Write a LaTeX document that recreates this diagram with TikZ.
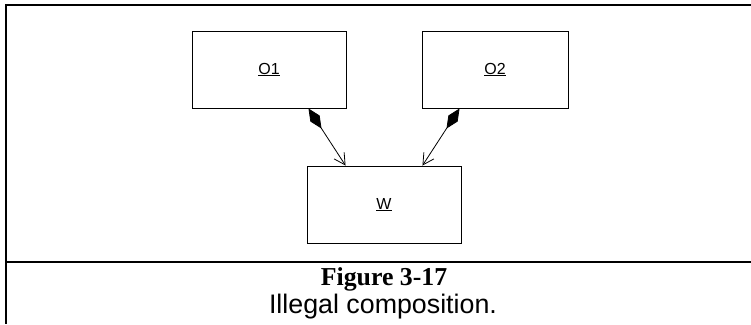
\documentclass[tikz,border=0pt]{standalone}
\usepackage{fontspec}
\setmainfont{Liberation Sans}
\newfontfamily\capserif{Liberation Serif}
\usetikzlibrary{arrows.meta}
\begin{document}
\begin{tikzpicture}[x=1pt,y=-1pt,
  objbox/.style={draw=black,line width=0.9pt,minimum width=154pt,minimum height=77pt,inner sep=0pt,font=\fontsize{16}{18}\selectfont},
  frameline/.style={line width=2pt},
  compos/.style={line width=0.8pt,{Diamond[length=24pt,width=11pt,fill=black]}-{Straight Barb[length=11pt,width=12pt,line width=0.8pt]}},
  captxt/.style={inner sep=0pt,anchor=base}]
\useasboundingbox (0,0) rectangle (751,324);
\fill[white] (0,0) rectangle (751,324);
% frame
\draw[frameline] (751,4.5) -- (5.5,4.5) -- (5.5,324);
\draw[frameline] (5.5,262) -- (751,262);
% objects
\node[objbox] (O1) at (269,69.5) {\underline{O1}};
\node[objbox,minimum width=146pt] (O2) at (495,69.5) {\underline{O2}};
\node[objbox] (W) at (384,204.5) {\underline{W}};
% compositions
\draw[compos] ([xshift=-38pt]O1.south east) -- ([xshift=39pt]W.north west);
\draw[compos] ([xshift=38pt]O2.south west) -- ([xshift=-39pt]W.north east);
% caption
\node[captxt,font=\capserif\bfseries\fontsize{25.8}{28}\selectfont] (cap1) at (384,285) {Figure 3-17};
\node[captxt,font=\fontsize{26.8}{30}\selectfont] (cap2) at (383,313) {Illegal composition.};
\end{tikzpicture}
\end{document}
